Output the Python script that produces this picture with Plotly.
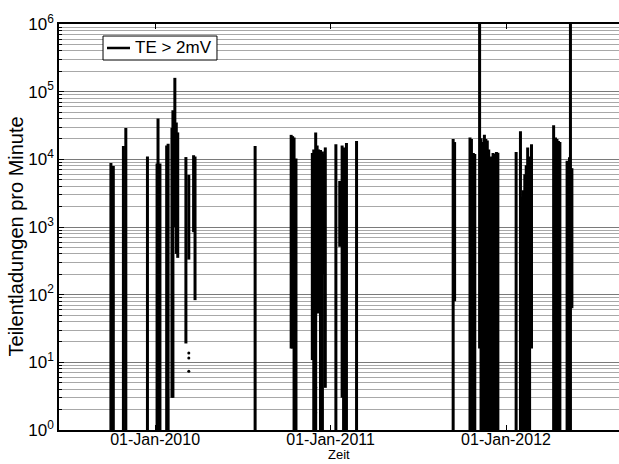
import plotly.graph_objects as go

# ---- data (time of burst, peak value, lowest value) ----
spike_time = [
    "2009-10-01", "2009-10-06", "2009-10-27", "2009-11-01", "2009-12-16",
    "2010-01-05", "2010-01-07", "2010-01-11", "2010-01-25", "2010-01-28",
    "2010-02-05", "2010-02-07", "2010-02-11", "2010-02-14", "2010-02-17",
    "2010-03-06", "2010-03-12", "2010-03-22", "2010-03-25",
    "2010-07-28", "2010-10-11", "2010-10-14", "2010-10-17", "2010-10-21",
    "2010-11-24", "2010-11-27", "2010-12-01", "2010-12-04", "2010-12-07",
    "2010-12-11", "2010-12-15", "2010-12-18", "2010-12-21",
    "2011-01-12", "2011-01-20", "2011-01-25", "2011-01-28", "2011-02-03",
    "2011-02-24",
    "2011-09-13", "2011-09-16", "2011-10-18", "2011-10-21", "2011-10-25",
    "2011-10-28", "2011-11-07", "2011-11-10", "2011-11-14", "2011-11-17",
    "2011-11-20", "2011-11-23", "2011-11-26", "2011-11-29", "2011-12-02",
    "2011-12-05", "2011-12-09", "2011-12-12", "2011-12-15",
    "2012-01-22", "2012-01-31", "2012-02-03", "2012-02-06", "2012-02-09",
    "2012-02-12", "2012-02-15", "2012-02-19", "2012-02-23",
    "2012-04-09", "2012-04-13", "2012-04-16", "2012-04-19", "2012-04-22",
    "2012-05-07", "2012-05-10", "2012-05-12", "2012-05-14", "2012-05-17",
]
spike_high = [
    8800, 8000, 15800, 29000, 11000,
    8700, 40000, 8700, 16000, 17000,
    29000, 53000, 160000, 35000, 25000,
    10800, 5900, 11500, 11000,
    15800, 23000, 22000, 21000, 10300,
    12400, 14000, 25000, 16000, 14000,
    13700, 13000, 12000, 15000,
    16700, 4800, 16000, 15000, 17500,
    18600,
    20000, 18000, 21000, 20000, 12400,
    12000, 1500000, 20500, 18000, 23000,
    20000, 19000, 14000, 10700, 11000,
    12400, 12000, 12800, 12500,
    12800, 26000, 2800, 3500, 6000,
    8200, 15000, 11000, 16700,
    32000, 21000, 20000, 18600, 18000,
    9500, 9000, 10700, 1500000, 7400,
]
spike_low = [
    0.1, 0.1, 0.1, 0.1, 0.1,
    0.1, 0.1, 0.1, 0.1, 0.1,
    3, 3, 1000, 400, 350,
    19, 330, 840, 83,
    0.1, 16, 16, 0.1, 0.1,
    10.8, 0.1, 0.1, 53, 53,
    0.1, 0.1, 200, 4.2,
    0.1, 510, 3, 0.1, 0.1,
    0.1,
    0.1, 80, 0.1, 0.1, 0.1,
    0.1, 16, 0.1, 0.1, 0.1,
    0.1, 0.1, 0.1, 0.1, 0.1,
    0.1, 0.1, 0.1, 0.1,
    0.1, 0.1, 0.1, 0.1, 0.1,
    0.1, 0.1, 0.1, 16,
    0.1, 0.1, 0.1, 0.1, 0.1,
    0.1, 0.1, 0.1, 0.1, 63,
]
# isolated single readings
dot_time = ["2010-03-12", "2010-03-12", "2010-03-12", "2010-12-01", "2010-12-01",
            "2011-01-30", "2011-01-30"]
dot_value = [13.7, 11.6, 7.4, 4.3, 1.8, 4.3, 1.8]

series_name = "TE > 2mV"
x_title = "Zeit"
y_title = "Teilentladungen pro Minute"
y_tickvals = [1, 10, 100, 1000, 10000, 100000, 1000000]
y_ticktext = ["10<sup>0</sup>", "10<sup>1</sup>", "10<sup>2</sup>", "10<sup>3</sup>",
              "10<sup>4</sup>", "10<sup>5</sup>", "10<sup>6</sup>"]
x_tickvals = ["2010-01-01", "2011-01-01", "2012-01-01"]
x_ticktext = ["01-Jan-2010", "01-Jan-2011", "01-Jan-2012"]
x_range = ["2009-06-15", "2012-08-23"]

# build segment table (one vertical stroke per reading burst)
xs, ys = [], []
for t, hi, lo in zip(spike_time, spike_high, spike_low):
    xs += [t, t, None]
    ys += [lo, hi, None]

minor_vals = [m * 10 ** k for k in range(6) for m in range(2, 10)]

FONT = "Liberation Sans, Arial, sans-serif"

fig = go.Figure()
fig.add_trace(go.Scatter(x=xs, y=ys, mode="lines", name=series_name, showlegend=False,
                         line=dict(color="black", width=3), connectgaps=False))
fig.add_trace(go.Scatter(x=dot_time, y=dot_value, mode="markers", showlegend=False,
                         marker=dict(color="black", size=3)))

# legend drawn as box + line sample + text
fig.add_shape(type="rect", xref="paper", yref="paper",
              x0=0.0786, x1=0.2821, y0=0.9113, y1=0.9704,
              line=dict(color="black", width=1), fillcolor="white", layer="above")
fig.add_shape(type="line", xref="paper", yref="paper",
              x0=0.0857, x1=0.1268, y0=0.9409, y1=0.9409,
              line=dict(color="black", width=2.5), layer="above")
fig.add_annotation(text=series_name, xref="paper", yref="paper",
                   x=0.1321, y=0.9409, xanchor="left", yanchor="middle",
                   showarrow=False, font=dict(size=17))
# axis titles
fig.add_annotation(text=x_title, xref="paper", yref="paper",
                   x=0.5, y=-0.0813, xanchor="center", yanchor="bottom",
                   showarrow=False, font=dict(size=13), borderpad=0)
fig.add_annotation(text=y_title, xref="paper", yref="paper", textangle=-90,
                   x=-0.0768, y=0.4766, xanchor="center", yanchor="middle",
                   showarrow=False, font=dict(size=20))

fig.update_layout(
    width=619, height=464,
    margin=dict(l=59, r=0, t=24, b=34),
    paper_bgcolor="white", plot_bgcolor="white",
    font=dict(family=FONT, color="black", size=16),
    showlegend=False,
)
fig.update_xaxes(
    type="date", range=x_range,
    tickvals=x_tickvals, ticktext=x_ticktext, tickfont=dict(size=16),
    ticks="inside", ticklen=5, tickcolor="black", ticklabelstandoff=-6,
    showline=True, linecolor="black", linewidth=1.5, mirror="ticks",
    showgrid=False, zeroline=False,
)
fig.update_yaxes(
    type="log", range=[0, 6],
    tickvals=y_tickvals, ticktext=y_ticktext, tickfont=dict(size=17),
    ticks="inside", ticklen=5, tickcolor="black",
    showline=True, linecolor="black", linewidth=1.5,
    showgrid=True, gridcolor="#7a7a7a", gridwidth=1,
    minor=dict(tickvals=minor_vals, ticks="inside", ticklen=3, tickcolor="black",
               showgrid=True, gridcolor="#a8a8a8", gridwidth=1),
    zeroline=False,
)

fig.write_html("out.html")
